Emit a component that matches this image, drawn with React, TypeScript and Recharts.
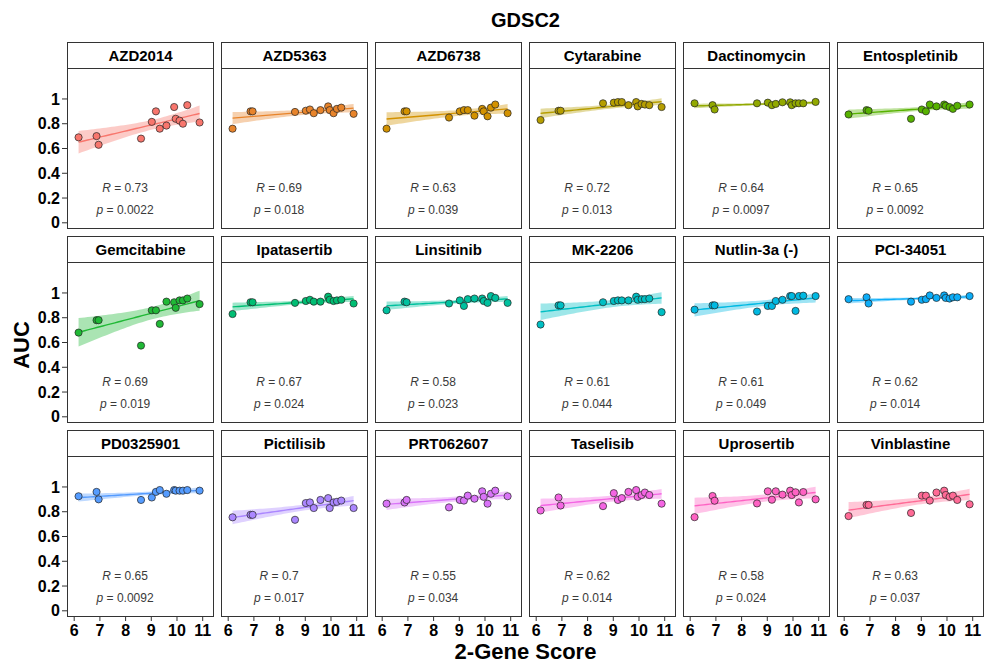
import React from 'react';
import { ComposedChart, Scatter, Line, Area, XAxis, YAxis } from 'recharts';

// 2-gene score of each cell line (shared by every drug panel)
const SCORE = [6.17, 6.87, 6.95, 8.6, 9.02, 9.18, 9.33, 9.59, 9.89, 9.95, 10.1, 10.23, 10.4, 10.88];

// AUC per drug, same order as SCORE
const AZD2014 = [0.69, 0.7, 0.63, 0.68, 0.815, 0.9, 0.76, 0.785, 0.935, 0.84, 0.825, 0.8, 0.95, 0.81];
const AZD5363 = [0.76, 0.9, 0.9, 0.895, 0.905, 0.915, 0.885, 0.91, 0.94, 0.91, 0.885, 0.92, 0.93, 0.88];
const AZD6738 = [0.76, 0.9, 0.9, 0.85, 0.9, 0.91, 0.91, 0.865, 0.92, 0.9, 0.86, 0.93, 0.955, 0.885];
const CYTARABINE = [0.83, 0.905, 0.905, 0.965, 0.97, 0.975, 0.975, 0.95, 0.975, 0.94, 0.96, 0.955, 0.95, 0.935];
const DACTINOMYCIN = [0.965, 0.95, 0.915, 0.965, 0.97, 0.95, 0.96, 0.973, 0.973, 0.95, 0.965, 0.965, 0.965, 0.976];
const ENTOSPLETINIB = [0.875, 0.91, 0.905, 0.84, 0.915, 0.9, 0.955, 0.94, 0.955, 0.945, 0.935, 0.92, 0.945, 0.955];
const GEMCITABINE = [0.68, 0.78, 0.78, 0.575, 0.86, 0.86, 0.75, 0.93, 0.925, 0.88, 0.94, 0.94, 0.955, 0.91];
const IPATASERTIB = [0.83, 0.925, 0.925, 0.92, 0.935, 0.945, 0.93, 0.93, 0.97, 0.945, 0.935, 0.94, 0.945, 0.915];
const LINSITINIB = [0.86, 0.93, 0.925, 0.915, 0.94, 0.895, 0.95, 0.955, 0.955, 0.935, 0.92, 0.975, 0.96, 0.92];
const MK2206 = [0.745, 0.9, 0.9, 0.925, 0.935, 0.94, 0.94, 0.94, 0.97, 0.945, 0.95, 0.95, 0.955, 0.845];
const NUTLIN3A = [0.865, 0.9, 0.9, 0.85, 0.895, 0.895, 0.935, 0.945, 0.975, 0.975, 0.855, 0.975, 0.978, 0.975];
const PCI34051 = [0.95, 0.965, 0.915, 0.93, 0.945, 0.95, 0.98, 0.96, 0.98, 0.96, 0.955, 0.965, 0.965, 0.975];
const PD0325901 = [0.925, 0.96, 0.9, 0.895, 0.915, 0.96, 0.975, 0.945, 0.975, 0.97, 0.97, 0.97, 0.975, 0.97];
const PICTILISIB = [0.755, 0.775, 0.775, 0.735, 0.87, 0.875, 0.83, 0.895, 0.91, 0.83, 0.875, 0.88, 0.89, 0.83];
const PRT062607 = [0.865, 0.875, 0.895, 0.835, 0.895, 0.89, 0.93, 0.905, 0.965, 0.92, 0.865, 0.945, 0.97, 0.925];
const TASELISIB = [0.81, 0.915, 0.85, 0.845, 0.95, 0.895, 0.91, 0.96, 0.975, 0.92, 0.935, 0.955, 0.935, 0.865];
const UPROSERTIB = [0.756, 0.927, 0.889, 0.867, 0.965, 0.897, 0.965, 0.938, 0.97, 0.935, 0.957, 0.875, 0.959, 0.9];
const VINBLASTINE = [0.765, 0.855, 0.855, 0.79, 0.93, 0.93, 0.89, 0.955, 0.97, 0.935, 0.92, 0.93, 0.895, 0.86];

const DRUGS = [
  'AZD2014', 'AZD5363', 'AZD6738', 'Cytarabine', 'Dactinomycin', 'Entospletinib',
  'Gemcitabine', 'Ipatasertib', 'Linsitinib', 'MK-2206', 'Nutlin-3a (-)', 'PCI-34051',
  'PD0325901', 'Pictilisib', 'PRT062607', 'Taselisib', 'Uprosertib', 'Vinblastine',
];
const AUC = [
  AZD2014, AZD5363, AZD6738, CYTARABINE, DACTINOMYCIN, ENTOSPLETINIB,
  GEMCITABINE, IPATASERTIB, LINSITINIB, MK2206, NUTLIN3A, PCI34051,
  PD0325901, PICTILISIB, PRT062607, TASELISIB, UPROSERTIB, VINBLASTINE,
];
const R_LABELS = ['0.73', '0.69', '0.63', '0.72', '0.64', '0.65', '0.69', '0.67', '0.58', '0.61', '0.61', '0.62', '0.65', '0.7', '0.55', '0.62', '0.58', '0.63'];
const P_LABELS = ['0.0022', '0.018', '0.039', '0.013', '0.0097', '0.0092', '0.019', '0.024', '0.023', '0.044', '0.049', '0.014', '0.0092', '0.017', '0.034', '0.014', '0.024', '0.037'];

const COLORS = [
  '#F8766D', '#E8842B', '#D39200', '#B69E00', '#92A900', '#57B200',
  '#20B936', '#00BE73', '#00C19F', '#00BFC4', '#00B9E2', '#0CADF8',
  '#559CFF', '#AB87FF', '#D973F8', '#F465E3', '#FE62C3', '#FF6B96',
];

const X_TICKS = [6, 7, 8, 9, 10, 11];
const Y_TICKS = [0, 0.2, 0.4, 0.6, 0.8, 1];

// facet geometry
const PLOT_LEFT = 67;
const COL_STEP = 154;
const PLOT_W = 147;
const PLOT_H = 161;
const ROW_TOPS = [68, 262, 456];
const STRIP_H = 26;
const Y_AXIS_W = 67;
const X_AXIS_H = 34;
const PAD_BOTTOM = 12; // room for the "0" label under panels without an x axis
const X_DOMAIN: [number, number] = [5.72, 11.44];
const Y_DOMAIN: [number, number] = [-0.05, 1.25];

// least-squares line with 95% confidence band, like geom_smooth(method = "lm")
function lmBand(xs: number[], ys: number[]) {
  const n = xs.length;
  const mx = xs.reduce((a, b) => a + b, 0) / n;
  const my = ys.reduce((a, b) => a + b, 0) / n;
  let sxx = 0;
  let sxy = 0;
  for (let i = 0; i < n; i++) {
    sxx += (xs[i] - mx) ** 2;
    sxy += (xs[i] - mx) * (ys[i] - my);
  }
  const b = sxy / sxx;
  const a = my - b * mx;
  let sse = 0;
  for (let i = 0; i < n; i++) sse += (ys[i] - a - b * xs[i]) ** 2;
  const s = Math.sqrt(sse / (n - 2));
  const t = 2.179; // qt(0.975, 12)
  const lo = Math.min(...xs);
  const hi = Math.max(...xs);
  const rows = [];
  for (let k = 0; k <= 40; k++) {
    const x = lo + ((hi - lo) * k) / 40;
    const fit = a + b * x;
    const se = s * Math.sqrt(1 / n + (x - mx) ** 2 / sxx);
    rows.push({ x, fit, band: [fit - t * se, fit + t * se] });
  }
  return rows;
}

const tickFont = { fontSize: 16, fontWeight: 700, fill: '#000' };

function Panel({ idx }: { idx: number }) {
  const row = Math.floor(idx / 6);
  const col = idx % 6;
  const left = PLOT_LEFT + col * COL_STEP;
  const top = ROW_TOPS[row];
  const showY = col === 0;
  const showX = row === 2;
  const padB = showX ? 0 : PAD_BOTTOM;
  const color = COLORS[idx];
  const points = SCORE.map((x, i) => ({ x, y: AUC[idx][i] }));
  const fitRows = lmBand(SCORE, AUC[idx]);
  const labels = [
    { x: 7.98, y: 0.285, k: 'R', v: R_LABELS[idx] },
    { x: 7.98, y: 0.108, k: 'p', v: P_LABELS[idx] },
  ];

  return (
    <>
      <div
        style={{
          position: 'absolute', left, top: top - STRIP_H, width: PLOT_W, height: STRIP_H + 1,
          border: '1px solid #333', boxSizing: 'border-box', background: '#fff',
          fontSize: 15, fontWeight: 700, textAlign: 'center', lineHeight: `${STRIP_H - 1}px`,
        }}
      >
        {DRUGS[idx]}
      </div>
      <div style={{ position: 'absolute', left: left - (showY ? Y_AXIS_W : 0), top }}>
        <ComposedChart
          width={PLOT_W + (showY ? Y_AXIS_W : 0)}
          height={PLOT_H + (showX ? X_AXIS_H : padB)}
          data={fitRows}
          margin={{ top: 0, right: 0, bottom: padB, left: 0 }}
        >
          <XAxis
            type="number" dataKey="x" domain={X_DOMAIN} ticks={X_TICKS} allowDataOverflow
            hide={!showX} height={X_AXIS_H} axisLine={false} tickSize={4} tickMargin={4}
            tickLine={{ stroke: '#333' }} tick={tickFont} interval={0}
          />
          <YAxis
            type="number" dataKey="y" domain={Y_DOMAIN} ticks={Y_TICKS} allowDataOverflow
            hide={!showY} width={Y_AXIS_W} axisLine={false} tickSize={5} tickMargin={2}
            tickLine={{ stroke: '#333' }} tick={tickFont} interval={0}
          />
          <Area
            dataKey="band" type="linear" stroke="none" fill={color} fillOpacity={0.38}
            isAnimationActive={false} activeDot={false}
          />
          <Line
            dataKey="fit" type="linear" stroke={color} strokeWidth={1.4} dot={false}
            isAnimationActive={false} activeDot={false}
          />
          <Scatter
            data={points} isAnimationActive={false}
            shape={(p: any) => (
              <circle cx={p.cx} cy={p.cy} r={3.6} fill={color} stroke="#222" strokeWidth={0.7} />
            )}
          />
          <Scatter
            data={labels} isAnimationActive={false}
            shape={(p: any) => (
              <text x={p.cx} y={p.cy} dy="0.35em" textAnchor="middle" fontSize={12} fill="#3a3a3a">
                <tspan fontStyle="italic">{p.payload.k}</tspan>
                {` = ${p.payload.v}`}
              </text>
            )}
          />
        </ComposedChart>
      </div>
      <div
        style={{
          position: 'absolute', left, top, width: PLOT_W, height: PLOT_H,
          border: '1px solid #333', boxSizing: 'border-box', pointerEvents: 'none',
        }}
      />
    </>
  );
}

export default function App() {
  return (
    <div
      style={{
        position: 'absolute', left: 0, top: 0, width: 984, height: 663, background: '#fff',
        fontFamily: '"Liberation Sans", Arial, sans-serif', color: '#000', overflow: 'hidden',
      }}
    >
      <div style={{ position: 'absolute', left: 67, width: 917, top: 8, textAlign: 'center', fontSize: 20, fontWeight: 700, lineHeight: '24px' }}>
        GDSC2
      </div>
      <div
        style={{
          position: 'absolute', left: 22, top: 345, fontSize: 22, fontWeight: 700,
          transform: 'translate(-50%, -50%) rotate(-90deg)', whiteSpace: 'nowrap',
        }}
      >
        AUC
      </div>
      <div style={{ position: 'absolute', left: 67, width: 917, top: 640, textAlign: 'center', fontSize: 22, fontWeight: 700, lineHeight: '24px' }}>
        2-Gene Score
      </div>
      {DRUGS.map((_, i) => (
        <Panel key={i} idx={i} />
      ))}
    </div>
  );
}
